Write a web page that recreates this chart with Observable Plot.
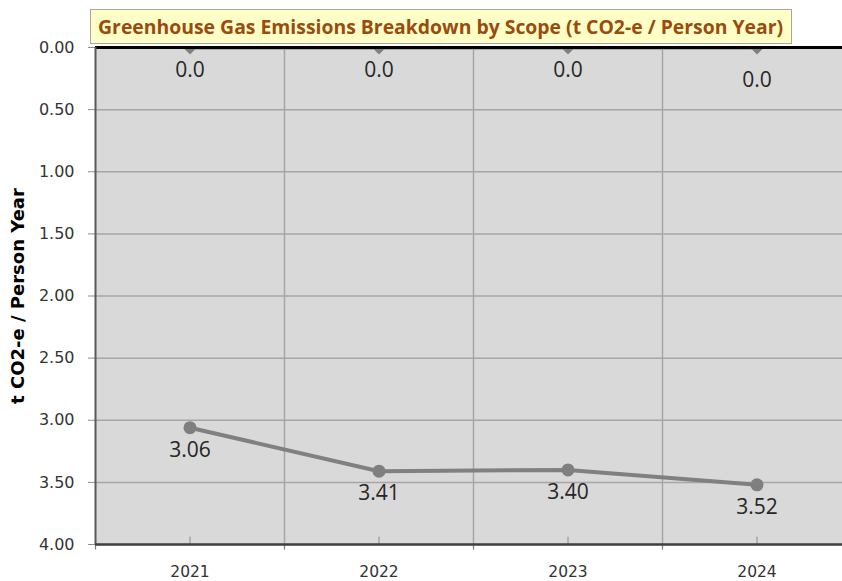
<!DOCTYPE html>
<html>
<head>
<meta charset="utf-8">
<script src="https://cdn.jsdelivr.net/npm/d3@7"></script>
<script src="https://cdn.jsdelivr.net/npm/@observablehq/plot@0.6"></script>
<style>
  html, body { margin: 0; padding: 0; background: #ffffff; }
  #wrap { position: relative; width: 842px; height: 581px; overflow: hidden; }
  #title {
    position: absolute; left: 90px; top: 9px; width: 700px; height: 33px;
    background: #ffffc6; border: 1px solid #a6a6a6; z-index: 2;
    display: flex; align-items: center; justify-content: center; overflow: hidden;
  }
  #title span {
    font-family: "Open Sans", sans-serif; font-weight: 700; font-size: 20px;
    color: #9c4a10; white-space: nowrap; display: inline-block; transform-origin: center center;
  }
</style>
</head>
<body>
<div id="wrap">
  <div id="title"><span id="titleText">Greenhouse Gas Emissions Breakdown by Scope (t CO2-e / Person Year)</span></div>
  <div id="chart"></div>
</div>
<script>
const years = [2021, 2022, 2023, 2024];
const seriesZero = [0.0, 0.0, 0.0, 0.0];
const seriesMain = [3.06, 3.41, 3.40, 3.52];
const yTicks = [0, 0.5, 1, 1.5, 2, 2.5, 3, 3.5, 4];
const yLabel = "t CO2-e / Person Year";

const zeroData = years.map((y, i) => ({year: y, value: seriesZero[i]}));
const mainData = years.map((y, i) => ({year: y, value: seriesMain[i]}));
const bounds = [years[0] - 0.5, ...years.map(y => y + 0.5)];
const inner = bounds.slice(1, -1);
const lastYear = years[years.length - 1];

const chart = Plot.plot({
  width: 842,
  height: 581,
  marginLeft: 95,
  marginRight: 0,
  marginTop: 47,
  marginBottom: 37,
  style: {fontFamily: "DejaVu Sans", fontSize: "16px", color: "#333", background: "transparent", overflow: "visible"},
  x: {type: "linear", domain: [years[0] - 0.5, lastYear + 0.5], range: [95, 851], axis: null},
  y: {domain: [0, 4], reverse: true, axis: null},
  marks: [
    Plot.frame({fill: "#d9d9d9", stroke: null}),
    Plot.ruleY(yTicks, {stroke: "#a6a6a6", strokeWidth: 1.5}),
    Plot.ruleX(inner, {stroke: "#a6a6a6", strokeWidth: 1.5}),
    Plot.ruleX(years, {y1: 3.94, y2: 4, stroke: "#8c8c8c", strokeWidth: 1}),
    Plot.ruleX(bounds, {y1: 4, y2: 4.045, stroke: "#7f7f7f", strokeWidth: 1.2}),
    Plot.axisY(yTicks, {tickFormat: d => d.toFixed(2), tickSize: 7, tickPadding: 14, stroke: "#8c8c8c", fill: "#333", fontSize: 16, label: null}),
    Plot.axisX(years, {tickFormat: d => String(d), tickSize: 0, tickPadding: 21, fill: "#333", fontSize: 15.5, label: null}),
    Plot.text([yLabel], {frameAnchor: "left", textAnchor: "middle", dx: -77, rotate: -90, fontWeight: "bold", fontSize: 18, fill: "#000"}),
    // zero series (clipped at the top edge)
    Plot.line(zeroData, {x: "year", y: "value", stroke: "#7f7f7f", strokeWidth: 4, clip: true}),
    Plot.dot(zeroData, {x: "year", y: "value", symbol: "square", rotate: 45, r: 5.6, fill: "#7f7f7f", stroke: null, clip: true}),
    Plot.text(zeroData.filter(d => d.year !== lastYear), {x: "year", y: "value", text: d => d.value.toFixed(1), dy: 23, fontFamily: "Open Sans", fontSize: 21, fill: "#262626"}),
    Plot.text(zeroData.filter(d => d.year === lastYear), {x: "year", y: "value", text: d => d.value.toFixed(1), dy: 33, fontFamily: "Open Sans", fontSize: 21, fill: "#262626"}),
    // borders
    Plot.ruleY([0], {stroke: "#000", strokeWidth: 3}),
    Plot.ruleX([years[0] - 0.5], {stroke: "#595959", strokeWidth: 2}),
    Plot.ruleY([4], {stroke: "#404040", strokeWidth: 2.5}),
    // main series
    Plot.line(mainData, {x: "year", y: "value", stroke: "#808080", strokeWidth: 4}),
    Plot.dot(mainData, {x: "year", y: "value", r: 6.5, fill: "#7f7f7f", stroke: null}),
    Plot.text(mainData, {x: "year", y: "value", text: d => d.value.toFixed(2), dy: 22.5, fontFamily: "Open Sans", fontSize: 21, fill: "#262626"})
  ]
});
document.getElementById("chart").appendChild(chart);

// fit the title text to the reference width
const span = document.getElementById("titleText");
const w = span.getBoundingClientRect().width;
if (w > 0) span.style.transform = `scaleX(${685 / w})`;
</script>
</body>
</html>
